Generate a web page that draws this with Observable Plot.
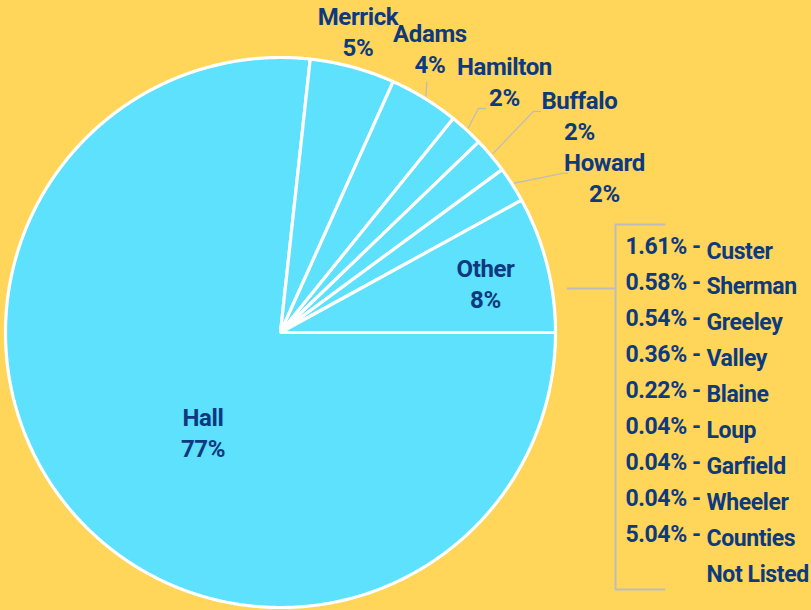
<!DOCTYPE html>
<html><head><meta charset="utf-8">
<script src="https://cdn.jsdelivr.net/npm/d3@7"></script>
<script src="https://cdn.jsdelivr.net/npm/@observablehq/plot@0.6"></script>
<style>
html,body{margin:0;padding:0;background:#FFD55A;overflow:hidden;}
#chart svg{display:block}
#chart text{letter-spacing:-0.4px}
</style></head><body><div id="chart"></div>
<script>
// ---- data ----
const counties = ["Hall", "Merrick", "Adams", "Hamilton", "Buffalo", "Howard", "Other"];
const shares = [76.8, 5.0, 4.1, 2.0, 2.1, 2.1, 8.0];
const shareLabels = ["77%", "5%", "4%", "2%", "2%", "2%", "8%"];
const otherCounties = ["Custer", "Sherman", "Greeley", "Valley", "Blaine", "Loup", "Garfield", "Wheeler", "Counties\nNot Listed"];
const otherShares = [1.61, 0.58, 0.54, 0.36, 0.22, 0.04, 0.04, 0.04, 5.04];

// ---- layout ----
const W = 811, H = 610, cx = 280, cy = 332, R = 275;
const FONT = 'Roboto, "Liberation Sans", sans-serif';
const INK = "#0D3A7E", CYAN = "#5DE1FD", GRAY = "#BDBDBD", BG = "#FFD55A";
// label placement: [angle deg clockwise from 12 o'clock, radius factor]
const labelPolar = [[217.2, 0.466], [14.5, 1.125], [27.9, 1.161], [41.9, 1.219], [54.2, 1.340], [64.6, 1.304], [77.0, 0.765]];
// leader line bend points, px offsets from label centre (null = no leader)
const leaderBends = [null, null, [[-3, 31.7]], [[-26, 25.5], [-19, 25.5]], [[-46, -5.5], [-39, -5.5]], [[-42, -5.3], [-37, -5.3]], null];
const listX = 625, nameX = 706, rowTop = 249, rowStep = 35.9, FS = 24, FSL = 23;

const slices = counties.map((name, i) => ({name, share: shares[i], label: `${name}\n${shareLabels[i]}`}));
const arcs = d3.pie().sort(null).value(d => d.share)
  .startAngle(Math.PI / 2).endAngle(Math.PI / 2 + 2 * Math.PI)(slices);
const pt = (a, r) => [cx + r * Math.sin(a), cy - r * Math.cos(a)];

const slicePts = arcs.flatMap(a => {
  const name = a.data.name;
  const n = Math.max(2, Math.ceil((a.endAngle - a.startAngle) / 0.004));
  const pts = [{name, x: cx, y: cy}];
  for (let i = 0; i <= n; i++) {
    const t = a.startAngle + (a.endAngle - a.startAngle) * i / n;
    const [x, y] = pt(t, R);
    pts.push({name, x, y});
  }
  return pts;
});

const labels = slices.map((d, i) => {
  const [x, y] = pt(labelPolar[i][0] * Math.PI / 180, labelPolar[i][1] * R);
  return {...d, x, y};
});

const leaders = [];
arcs.forEach((a, i) => {
  if (!leaderBends[i]) return;
  const mid = (a.startAngle + a.endAngle) / 2;
  const [sx, sy] = pt(mid, R * 1.01);
  leaders.push({name: a.data.name, x: sx, y: sy});
  leaderBends[i].forEach(([dx, dy]) => leaders.push({name: a.data.name, x: labels[i].x + dx, y: labels[i].y + dy}));
});

// list of the "Other" counties
const rows = [];
let line = 0;
otherCounties.forEach((name, i) => {
  const nLines = name.split("\n").length;
  rows.push({pct: `${otherShares[i].toFixed(2)}% -`, name,
    yPct: rowTop + rowStep * line,
    yName: rowTop + rowStep * (line + (nLines - 1) / 2)});
  line += nLines;
});
const lastY = rowTop + rowStep * (line - 1);
const bx = listX - 10, bTop = rowTop - 25, bBot = lastY + 17;
const bracket = [{x: bx + 49, y: bTop}, {x: bx, y: bTop}, {x: bx, y: bBot}, {x: bx + 49, y: bBot}];
const connector = [{x: cx + R * 1.044, y: 288}, {x: bx, y: 288}];

const textOpts = {fill: INK, fontWeight: "bold", fontFamily: FONT, dy: -2.5};

const chart = Plot.plot({
  width: W, height: H, margin: 0,
  x: {domain: [0, W], range: [0, W], axis: null},
  y: {domain: [0, H], range: [0, H], axis: null},
  style: {background: BG},
  marks: [
    Plot.line(slicePts, {x: "x", y: "y", z: "name", fill: CYAN, stroke: "white", strokeWidth: 3.2, curve: "linear-closed", strokeLinejoin: "miter"}),
    Plot.line(leaders, {x: "x", y: "y", z: "name", stroke: GRAY, strokeWidth: 1.3}),
    Plot.line(bracket, {x: "x", y: "y", stroke: GRAY, strokeWidth: 2}),
    Plot.line(connector, {x: "x", y: "y", stroke: GRAY, strokeWidth: 2}),
    Plot.text(labels, {x: "x", y: "y", text: "label", textAnchor: "middle", lineAnchor: "middle", fontSize: FS, lineHeight: 31 / FS, ...textOpts}),
    Plot.text(rows, {x: () => listX, y: "yPct", text: "pct", textAnchor: "start", lineAnchor: "middle", fontSize: FSL, ...textOpts}),
    Plot.text(rows, {x: () => nameX, y: "yName", text: "name", textAnchor: "start", lineAnchor: "middle", fontSize: FSL, lineHeight: rowStep / FSL, ...textOpts})
  ]
});
document.getElementById("chart").appendChild(chart);
</script>
</body></html>
